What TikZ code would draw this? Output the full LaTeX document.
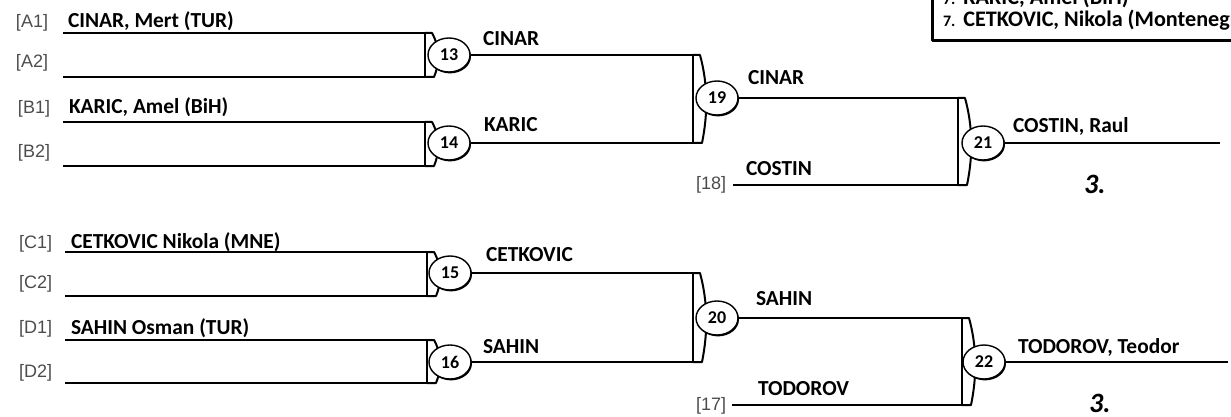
\documentclass[tikz,border=0pt]{standalone}
\usepackage{fontspec}
\setmainfont{Carlito}
\newfontfamily\seedfont{Liberation Sans}
\usetikzlibrary{shapes.geometric,shadows}

% second, curved stroke of a bracket: x, top y, bottom y
\newcommand{\lens}[3]{%
  \draw (#1,#2) -- ({#1+7},#2) .. controls ({#1+15},{#2+(#3-#2)/3}) and ({#1+15},{#3-(#3-#2)/3}) .. ({#1+9},#3) -- (#1,#3);}

\begin{document}
\begin{tikzpicture}[x=0.5pt, y=-0.5pt, line width=1pt, line join=round,
    game/.style={ellipse, draw, fill=white, line width=0.7pt, minimum width=21pt,
      minimum height=17pt, inner sep=0pt, font=\fontsize{9}{9}\selectfont\bfseries,
      drop shadow={shadow xshift=0.5pt, shadow yshift=-0.7pt, opacity=1, fill=black}},
    seed/.style={font=\seedfont\fontsize{9}{10}\selectfont, text=black!70,
      anchor=base west, inner sep=0pt},
    player/.style={font=\fontsize{10.7}{12}\selectfont\bfseries, anchor=base west, inner sep=0pt},
    ranked/.style={font=\fontsize{11.1}{13}\selectfont\bfseries, anchor=base west, inner sep=0pt},
    place/.style={font=\fontsize{14}{16}\selectfont\bfseries\itshape, anchor=base west, inner sep=0pt}]
    \useasboundingbox (0,0) rectangle (1231,417);
    \clip (0,0) rectangle (1231,417);

    % Seeds
    \node[seed] (sa1) at (15,28) {[A1]};
    \node[seed] (sa2) at (15,68) {[A2]};
    \node[seed] (sb1) at (17,113) {[B1]};
    \node[seed] (sb2) at (17,157) {[B2]};
    \node[seed] (sc1) at (18,248) {[C1]};
    \node[seed] (sc2) at (18,288) {[C2]};
    \node[seed] (sd1) at (18,333) {[D1]};
    \node[seed] (sd2) at (18,377) {[D2]};

    % Entrants
    \node[player] (pa1) at (67,28) {CINAR, Mert (TUR)};
    \node[player] (pb1) at (68,113) {KARIC, Amel (BiH)};
    \node[player] (pc1) at (70,248) {CETKOVIC Nikola (MNE)};
    \node[player] (pd1) at (70,334) {SAHIN Osman (TUR)};

    \coordinate (a1) at (63,33);
    \coordinate (a2) at (63,77);
    \coordinate (b1) at (63,122);
    \coordinate (b2) at (63,166);
    \coordinate (c1) at (65,252);
    \coordinate (c2) at (65,296);
    \coordinate (d1) at (65,340);
    \coordinate (d2) at (65,383);
    \coordinate (k13) at (425,77);
    \coordinate (k14) at (425,166);
    \coordinate (k15) at (427,296);
    \coordinate (k16) at (427,383);

    % First round
    \draw (a1) -| (k13) -- (a2);
    \lens{425}{33}{77}
    \node[game] (m13) at (449,55) {13};
    \draw (b1) -| (k14) -- (b2);
    \lens{425}{122}{166}
    \node[game] (m14) at (449,143) {14};
    \draw (c1) -| (k15) -- (c2);
    \lens{427}{252}{296}
    \node[game] (m15) at (450,273) {15};
    \draw (d1) -| (k16) -- (d2);
    \lens{427}{340}{383}
    \node[game] (m16) at (450,362) {16};

    \node[player] (r13) at (482,46) {CINAR};
    \node[player] (r14) at (483,132) {KARIC};
    \node[player] (r15) at (485,261) {CETKOVIC};
    \node[player] (r16) at (482,353) {SAHIN};

    % Second round
    \coordinate (k19) at (693,143);
    \draw (m13.east) -| (k19) -- (m14.east);
    \lens{693}{55}{143}
    \node[game] (m19) at (717,98) {19};
    \coordinate (k20) at (693,362);
    \draw (m15.east) -| (k20) -- (m16.east);
    \lens{693}{273}{362}
    \node[game] (m20) at (717,318) {20};

    \node[player] (r19) at (747,85) {CINAR};
    \node[player] (r20) at (755,305) {SAHIN};

    % Losers coming in
    \node[seed] (s18) at (695,190) {[18]};
    \node[player] (r18) at (745,176) {COSTIN};
    \coordinate (q18) at (733,185);
    \node[seed] (s17) at (695,410) {[17]};
    \node[player] (r17) at (757,395) {TODOROV};
    \coordinate (q17) at (732,405);

    % Third place games
    \coordinate (k21) at (958,185);
    \draw (m19.east) -| (k21) -- (q18);
    \lens{958}{98}{185}
    \node[game] (m21) at (983,143) {21};
    \coordinate (w21) at (1220,143);
    \draw (m21.east) -- (w21);
    \node[player] (r21) at (1012,133) {COSTIN, Raul};
    \node[place] (p21) at (1083,193) {3.};

    \coordinate (k22) at (962,405);
    \draw (m20.east) -| (k22) -- (q17);
    \lens{962}{318}{405}
    \node[game] (m22) at (984,362) {22};
    \coordinate (w22) at (1228,362);
    \draw (m22.east) -- (w22);
    \node[player] (r22) at (1017,353) {TODOROV, Teodor};
    \node[place] (p22) at (1088,412) {3.};

    % Ranking box
    \draw[line width=1.5pt] (932,-5) -- (932,41) -- (1240,41);
    \node[ranked] (t1) at (942,5) {{\fontsize{8}{8}\selectfont 7.}\hspace{4pt}KARIC, Amel (BiH)};
    \node[ranked] (t2) at (942,27) {{\fontsize{8}{8}\selectfont 7.}\hspace{4pt}CETKOVIC, Nikola (Montenegro)};
\end{tikzpicture}
\end{document}
